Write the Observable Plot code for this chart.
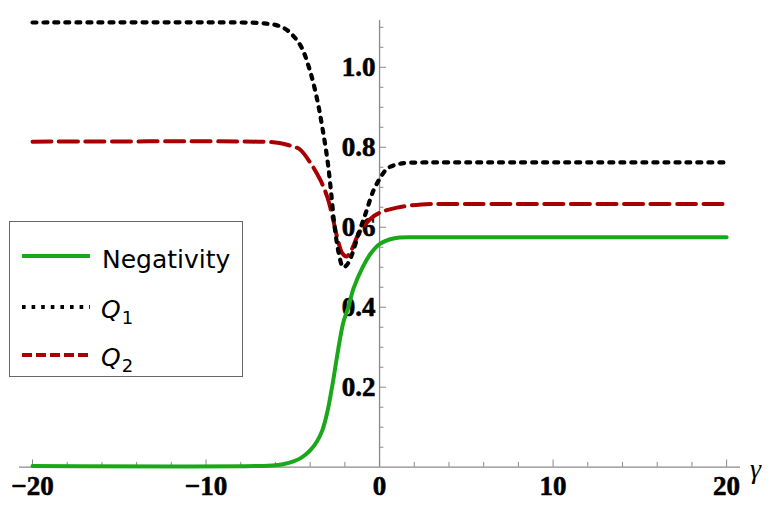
<!DOCTYPE html>
<html><head><meta charset="utf-8">
<script src="https://cdn.jsdelivr.net/npm/d3@7"></script>
<script src="https://cdn.jsdelivr.net/npm/@observablehq/plot@0.6"></script>
<style>
body{margin:0;background:#fff;}
#wrap{position:relative;width:772px;height:506px;overflow:hidden;}
#legend{position:absolute;left:9px;top:221px;width:234px;height:156px;box-sizing:border-box;border:1.3px solid #666;background:#fff;}
#legend svg{position:absolute;left:-1px;top:-1px;}
</style></head><body><div id="wrap"></div>
<script>
// Series data
const negX = [-20, -7, -6, -5.5, -5, -4.5, -4, -3.6, -3.3, -3.0, -2.7, -2.4, -2.1, -1.8, -1.5, -1.0, -0.5, 0.0, 0.8, 2.0, 4.0, 20];
const negY = [0.003, 0.003, 0.005, 0.008, 0.014, 0.024, 0.042, 0.065, 0.092, 0.14, 0.21, 0.29, 0.36, 0.40, 0.447, 0.498, 0.535, 0.558, 0.572, 0.575, 0.575, 0.575];

const q1X = [-20, -8, -7, -6.5, -6, -5.5, -5, -4.5, -4, -3.6, -3.3, -3.0, -2.8, -2.6, -2.35, -2.1, -1.9, -1.65, -1.2, -0.8, -0.35, 0.05, 0.45, 1.2, 2.5, 4, 20];
const q1Y = [1.112, 1.112, 1.111, 1.109, 1.106, 1.098, 1.080, 1.050, 0.990, 0.920, 0.850, 0.767, 0.690, 0.605, 0.535, 0.500, 0.505, 0.525, 0.585, 0.635, 0.692, 0.724, 0.747, 0.759, 0.762, 0.762, 0.762];

const q2X = [-20, -7, -6, -5.5, -5, -4.6, -4, -3.4, -3.0, -2.7, -2.4, -2.15, -1.9, -1.6, -1.2, -0.5, 0.05, 1.0, 2.4, 4, 20];
const q2Y = [0.814, 0.814, 0.812, 0.808, 0.802, 0.795, 0.762, 0.717, 0.674, 0.624, 0.567, 0.535, 0.527, 0.545, 0.584, 0.622, 0.637, 0.649, 0.657, 0.658, 0.658];

const seriesNames = ["Negativity", "Q", "Q"];
const seriesSubs = ["", "1", "2"];

const xMinorTicks = d3.range(-20, 21, 2);
const xLabelTicks = [-20, -10, 0, 10, 20];
const yMinorTicks = d3.range(1, 23).map(i => i * 0.05);
const yLabelTicks = [0.2, 0.4, 0.6, 0.8, 1.0];
const xLabel = "γ";

const toPts = (xs, ys) => xs.map((x, i) => ({x, y: ys[i]}));
const neg = toPts(negX, negY), q1 = toPts(q1X, q1Y), q2 = toPts(q2X, q2Y);

const GREEN = "#1aa81a", RED = "#a80000", AX = "#8a8a8a";
const tickFont = {fontSize: 27, fontWeight: "bold", fontFamily: "'Liberation Serif', serif", fill: "#000", stroke: "#000", strokeWidth: 0.6};

const plot = Plot.plot({
  width: 772, height: 506,
  marginLeft: 19, marginRight: 32, marginTop: 20, marginBottom: 39.3,
  x: {domain: [-20.75, 20.8], axis: null},
  y: {domain: [0, 1.117], axis: null},
  marks: [
    Plot.ruleY([0], {x1: -20.75, x2: 20.8, stroke: AX, strokeWidth: 1.3}),
    Plot.ruleX([0], {y1: 0, y2: 1.117, stroke: AX, strokeWidth: 1.3}),
    Plot.ruleX(xMinorTicks, {x: d => d, y1: 0, y2: d => (d % 10 === 0 ? 0.018 : 0.012), stroke: AX, strokeWidth: 1}),
    Plot.ruleY(yMinorTicks, {y: d => d, x1: 0, x2: d => (Math.abs(d * 5 - Math.round(d * 5)) < 1e-6 ? 0.4 : 0.25), stroke: AX, strokeWidth: 1}),
    Plot.text(yLabelTicks, {x: 0, y: d => d, text: d => d.toFixed(1), textAnchor: "end", dx: -4, lineAnchor: "middle", ...tickFont}),
    Plot.text(xLabelTicks, {x: d => d, y: 0, text: d => (d < 0 ? "\u2212" + Math.abs(d) : String(d)), dy: 19, lineAnchor: "middle", ...tickFont}),
    Plot.text([xLabel], {x: 20.8, y: 0, text: d => d, dx: 15, dy: 2, lineAnchor: "middle", fontSize: 28, fontStyle: "italic", fontFamily: "Liberation Serif", fill: "#000"}),
    Plot.line(neg, {x: "x", y: "y", stroke: GREEN, strokeWidth: 4, curve: "catmull-rom"}),
    Plot.line(q2, {x: "x", y: "y", stroke: RED, strokeWidth: 4, strokeDasharray: "19,7.5", curve: "catmull-rom"}),
    Plot.line(q1, {x: "x", y: "y", stroke: "#000", strokeWidth: 4.2, strokeDasharray: "4,7", curve: "catmull-rom"})
  ]
});
const wrap = document.getElementById("wrap");
wrap.appendChild(plot);

// Legend
const legend = document.createElement("div");
legend.id = "legend";
const styles = [
  {stroke: GREEN, dash: null},
  {stroke: "#000", dash: "3.6,6"},
  {stroke: RED, dash: "10,4"}
];
const rowsY = [35, 86, 134];
let svg = `<svg width="234" height="156" xmlns="http://www.w3.org/2000/svg">`;
seriesNames.forEach((name, i) => {
  const s = styles[i];
  svg += `<line x1="13" x2="81" y1="${rowsY[i]}" y2="${rowsY[i]}" stroke="${s.stroke}" stroke-width="4" ${s.dash ? `stroke-dasharray="${s.dash}"` : ""}/>`;
  if (seriesSubs[i]) {
    svg += `<text x="92" y="${rowsY[i] + 11}" font-family="DejaVu Sans" font-size="25" fill="#000"><tspan font-style="italic">${name}</tspan><tspan font-size="18" dy="6" dx="1">${seriesSubs[i]}</tspan></text>`;
  } else {
    svg += `<text x="93" y="${rowsY[i] + 12}" font-family="DejaVu Sans" font-size="25" fill="#000">${name}</text>`;
  }
});
svg += `</svg>`;
legend.innerHTML = svg;
wrap.appendChild(legend);
</script>
</body></html>
